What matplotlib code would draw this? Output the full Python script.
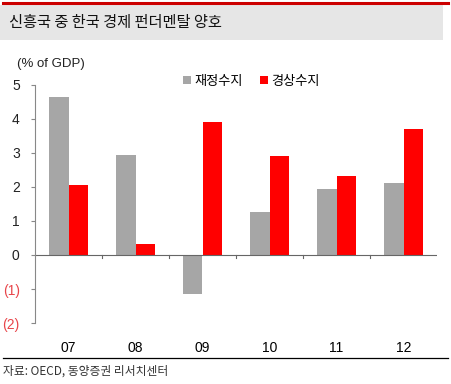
import numpy as np
import matplotlib.pyplot as plt
from matplotlib.patches import Rectangle
from matplotlib.lines import Line2D

plt.rcParams['font.family'] = ['Noto Sans CJK KR', 'DejaVu Sans']

# data
years = ['07', '08', '09', '10', '11', '12']
fiscal = [4.65, 2.95, -1.15, 1.27, 1.95, 2.12]     # 재정수지
current = [2.05, 0.32, 3.92, 2.9, 2.32, 3.72]      # 경상수지
yticks = [-2, -1, 0, 1, 2, 3, 4, 5]
ytick_labels = ['(2)', '(1)', '0', '1', '2', '3', '4', '5']

W, H = 451, 384
fig = plt.figure(figsize=(W / 100, H / 100), dpi=100)

def fx(px):
    return px / W

def fy(py):
    return 1 - py / H

# header: red rule + grey band with title
fig.add_artist(Line2D([fx(3), fx(448)], [fy(3), fy(3)], color='#cc0000', lw=2.2))
fig.add_artist(Rectangle((fx(0), fy(40)), fx(443), fy(5) - fy(40),
                         facecolor='#e6e6e6', edgecolor='none'))
fig.text(fx(9), fy(23), '신흥국 중 한국 경제 펀더멘탈 양호', fontsize=11,
         va='center', ha='left', color='#111111')

# footer
fig.add_artist(Line2D([fx(3), fx(448)], [fy(358), fy(358)], color='black', lw=0.9))
fig.text(fx(3), fy(371), '자료: OECD, 동양증권 리서치센터', fontsize=8.5,
         va='center', ha='left', color='#333333')

ax = fig.add_axes([fx(35), fy(323), fx(437 - 35), fy(85) - fy(323)])
x = np.arange(len(years))
bw = 0.285
ax.bar(x - bw / 2, fiscal, bw, color='#a6a6a6', label='재정수지')
ax.bar(x + bw / 2, current, bw, color='#ff0000', label='경상수지')

ax.set_xlim(-0.5, len(years) - 0.5)
ax.set_ylim(-2, 5)
ax.set_yticks(yticks)
ax.set_yticklabels(ytick_labels, fontsize=10, family=['Liberation Sans', 'DejaVu Sans'])
for lab, v in zip(ax.get_yticklabels(), yticks):
    lab.set_color('#e8454a' if v < 0 else '#222222')
ax.tick_params(axis='y', length=3, color='#888888', pad=8)

ax.set_xticks(x)
ax.set_xticklabels(years, fontsize=10, family=['Liberation Sans', 'DejaVu Sans'])
ax.tick_params(axis='x', length=0, pad=13)

for s in ['top', 'right', 'bottom']:
    ax.spines[s].set_visible(False)
ax.spines['left'].set_color('#888888')
ax.spines['left'].set_linewidth(0.8)

ax.axhline(0, color='#666666', lw=0.8)
for b in np.arange(0.5, len(years) - 1, 1.0):
    ax.plot([b, b], [0, -0.1], color='#666666', lw=0.8)

fig.text(fx(17), fy(64), '(% of GDP)', fontsize=9.5, va='center', ha='left',
         color='#222222', family=['Liberation Sans', 'DejaVu Sans'])

ax.legend(loc='upper left', bbox_to_anchor=((178 - 35) / 402, 1.065),
          ncol=2, frameon=False, fontsize=9.5, handlelength=0.6, handleheight=0.6,
          handletextpad=0.25, columnspacing=1.3, borderaxespad=0)

fig.savefig('out.png', dpi=100)
